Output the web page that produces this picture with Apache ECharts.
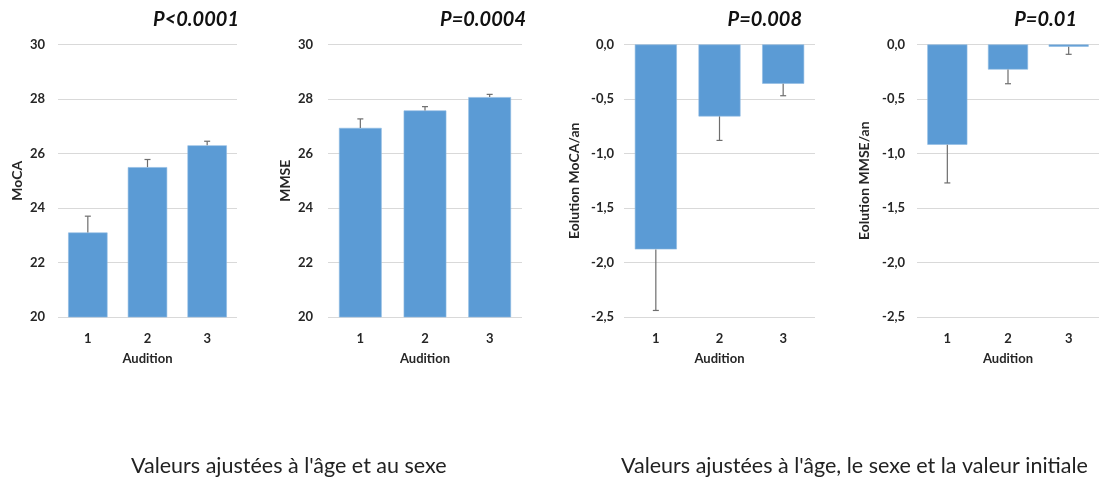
<!DOCTYPE html>
<html>
<head>
<meta charset="utf-8">
<script src="https://cdn.jsdelivr.net/npm/echarts@6/dist/echarts.min.js"></script>
<style>
  html, body { margin: 0; padding: 0; background: #fff; }
  #chart { width: 1099px; height: 477px; }
</style>
</head>
<body>
<div id="chart"></div>
<script>
// data
var auditions = ['1', '2', '3'];
var moca = [23.1, 25.5, 26.3];
var mocaErr = [0.6, 0.28, 0.15];
var mmse = [26.94, 27.58, 28.07];
var mmseErr = [0.33, 0.14, 0.1];
var evolMoca = [-1.88, -0.66, -0.36];
var evolMocaErr = [0.56, 0.22, 0.11];
var evolMmse = [-0.92, -0.23, -0.02];
var evolMmseErr = [0.35, 0.13, 0.07];
var pValues = ['P<0.0001', 'P=0.0004', 'P=0.008', 'P=0.01'];
var yNames = ['MoCA', 'MMSE', 'Eolution MoCA/an', 'Eolution MMSE/an'];
var captions = ["Valeurs ajustées à l'âge et au sexe", "Valeurs ajustées à l'âge, le sexe et la valeur initiale"];

var chart = echarts.init(document.getElementById('chart'));

var font = 'Lato, "Liberation Sans", sans-serif';
var barColor = '#5b9bd5';
var panels = [
    { left: 58, width: 179, min: 20, max: 30, interval: 2, vals: moca, errs: mocaErr, labelMargin: 13, nameGap: 34, pRight: 239 },
    { left: 328, width: 194, min: 20, max: 30, interval: 2, vals: mmse, errs: mmseErr, labelMargin: 15, nameGap: 36, pRight: 526 },
    { left: 624, width: 191, min: -2.5, max: 0, interval: 0.5, vals: evolMoca, errs: evolMocaErr, labelMargin: 10, nameGap: 43, pRight: 802 },
    { left: 917, width: 187, min: -2.5, max: 0, interval: 0.5, vals: evolMmse, errs: evolMmseErr, labelMargin: 12, nameGap: 46, pRight: 1077 }
];

function errorBar(params, api) {
    var i = api.value(0), v = api.value(1), e = api.value(2);
    var end = v >= 0 ? v + e : v - e;
    var p0 = api.coord([i, v]);
    var p1 = api.coord([i, end]);
    var style = { stroke: '#6d6d6d', lineWidth: 1.2 };
    return {
        type: 'group',
        children: [
            { type: 'line', shape: { x1: p0[0], y1: p0[1], x2: p1[0], y2: p1[1] }, style: style },
            { type: 'line', shape: { x1: p1[0] - 3, y1: p1[1], x2: p1[0] + 3, y2: p1[1] }, style: style }
        ]
    };
}

var grids = [], xAxes = [], yAxes = [], series = [], titles = [];
panels.forEach(function (p, k) {
    grids.push({ left: p.left, width: p.width, top: 44.5, height: 272.5 });
    xAxes.push({
        type: 'category', gridIndex: k, data: auditions, position: 'bottom',
        axisLine: { show: false, onZero: false }, axisTick: { show: false },
        axisLabel: { color: '#262626', fontWeight: 'bold', fontSize: 13, fontFamily: font, margin: 15 },
        name: 'Audition', nameLocation: 'middle', nameGap: 35,
        nameTextStyle: { color: '#262626', fontWeight: 'bold', fontSize: 13, fontFamily: font }
    });
    yAxes.push({
        type: 'value', gridIndex: k, min: p.min, max: p.max, interval: p.interval,
        axisLine: { show: false }, axisTick: { show: false },
        splitLine: { lineStyle: { color: '#d9d9d9', width: 1 } },
        axisLabel: {
            color: '#262626', fontWeight: 'bold', fontSize: 13, fontFamily: font, margin: p.labelMargin,
            formatter: function (v) { return p.min < 0 ? v.toFixed(1).replace('.', ',') : String(v); }
        },
        name: yNames[k], nameLocation: 'middle', nameGap: p.nameGap,
        nameTextStyle: { color: '#262626', fontWeight: 'bold', fontSize: 14, fontFamily: font }
    });
    series.push({
        type: 'bar', xAxisIndex: k, yAxisIndex: k, data: p.vals, barWidth: '66%',
        itemStyle: { color: barColor, borderColor: '#8fbbe3', borderWidth: 0.6 },
        silent: true
    });
    series.push({
        type: 'custom', xAxisIndex: k, yAxisIndex: k, renderItem: errorBar, z: 3,
        data: p.vals.map(function (v, i) { return [i, v, p.errs[i]]; })
    });
    titles.push({
        text: pValues[k], right: 1099 - p.pRight, top: 10, padding: 0,
        textStyle: { fontSize: 20, fontWeight: 'bold', fontStyle: 'italic', color: '#111', fontFamily: font }
    });
});
titles.push({ text: captions[0], left: 131, top: 455, padding: 0, textStyle: { fontSize: 21.5, fontWeight: 'normal', color: '#222', fontFamily: font } });
titles.push({ text: captions[1], left: 621, top: 455, padding: 0, textStyle: { fontSize: 21.5, fontWeight: 'normal', color: '#222', fontFamily: font } });

var option = {
    backgroundColor: '#fff',
    animation: false,
    title: titles,
    grid: grids,
    xAxis: xAxes,
    yAxis: yAxes,
    series: series
};
chart.setOption(option);
window.addEventListener('resize', function () { chart.resize(); });
</script>
</body>
</html>
